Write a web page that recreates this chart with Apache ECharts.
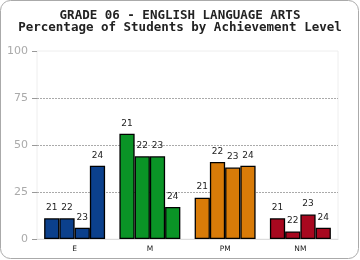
<!DOCTYPE html>
<html><head><meta charset="utf-8">
<script src="https://cdn.jsdelivr.net/npm/echarts@6/dist/echarts.min.js"></script>
<style>html,body{margin:0;padding:0;background:#fff}#c{width:360px;height:260px}</style>
</head><body><div id="c"></div>
<script>
var categories = ['E', 'M', 'PM', 'NM'];
var seriesNames = ['21', '22', '23', '24'];
var values21 = [11, 56, 22, 11];
var values22 = [11, 44, 41, 4];
var values23 = [6, 44, 38, 13];
var values24 = [39, 17, 39, 6];
var yTicks = [0, 25, 50, 75, 100];
var categoryColors = ['#0b408c', '#0a9426', '#d87b08', '#a8081f'];

var allValues = [values21, values22, values23, values24];
var chart = echarts.init(document.getElementById('c'), null, {renderer: 'canvas'});
var series = seriesNames.map(function (name, i) {
  return {
    name: name, type: 'bar', data: allValues[i],
    barGap: '0%', barCategoryGap: '19%',
    itemStyle: {
      color: function (p) { return categoryColors[p.dataIndex]; },
      borderColor: '#000', borderWidth: 1.3
    },
    label: {
      show: true, position: 'top', formatter: name, distance: 6,
      fontFamily: 'DejaVu Sans', fontSize: 9, color: '#222'
    }
  };
});
chart.setOption({
  animation: false,
  title: {
    text: 'GRADE 06 - ENGLISH LANGUAGE ARTS\nPercentage of Students by Achievement Level',
    left: 'center', top: 5,
    textStyle: {fontFamily: 'DejaVu Sans Mono', fontWeight: 'bold', fontSize: 12.5, lineHeight: 12, color: '#222'}
  },
  graphic: [{
    type: 'rect', shape: {x: 0.5, y: 0.5, width: 358, height: 258, r: 10},
    style: {fill: 'none', stroke: '#aaa', lineWidth: 1}, silent: true
  }],
  grid: {left: 37, right: 22, top: 51, bottom: 21, show: true, borderColor: '#eee', borderWidth: 1},
  xAxis: {
    type: 'category', data: categories,
    axisLine: {lineStyle: {color: '#ddd'}},
    axisTick: {show: false},
    axisLabel: {fontFamily: 'DejaVu Sans', fontSize: 7.5, color: '#222', margin: 6}
  },
  yAxis: {
    type: 'value', min: 0, max: 100, interval: 25,
    axisLine: {show: false},
    axisTick: {show: true, length: 5, lineStyle: {color: '#999'}},
    axisLabel: {fontFamily: 'DejaVu Sans', fontSize: 11, color: '#aaa', margin: 9,
      formatter: function (v) { return yTicks.indexOf(v) >= 0 ? String(v) : ''; }},
    splitLine: {show: true, lineStyle: {color: ['rgba(0,0,0,0)', '#aaa', '#aaa', '#aaa', 'rgba(0,0,0,0)'], type: [2, 1], width: 1}}
  },
  series: series
});
</script></body></html>
